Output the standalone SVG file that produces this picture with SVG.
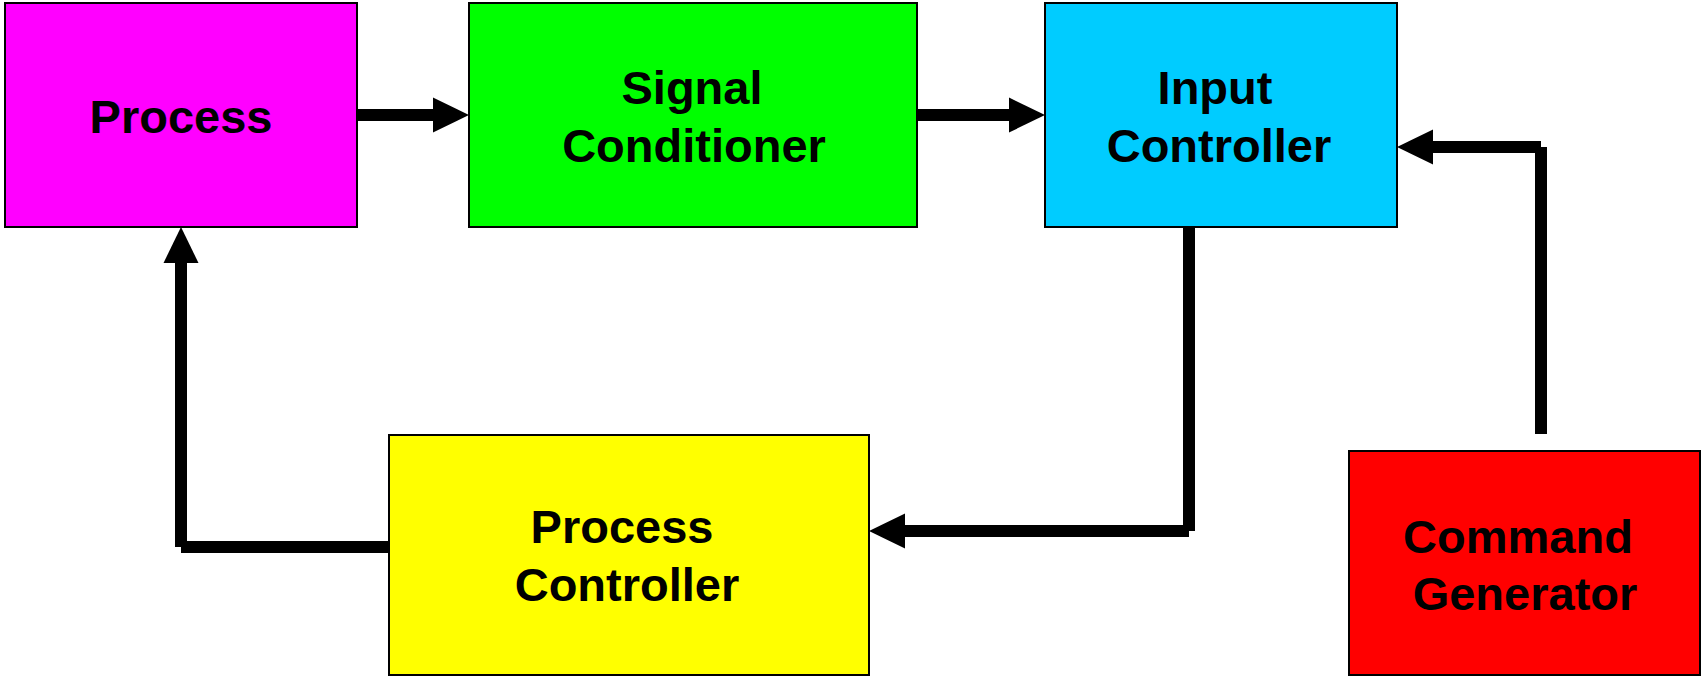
<svg xmlns="http://www.w3.org/2000/svg" width="1701" height="677" viewBox="0 0 1701 677">
  <style>
    .box { stroke: #000; stroke-width: 2; }
    .label { font-family: "Liberation Sans", Arial, sans-serif; font-weight: bold; font-size: 47px; fill: #000; text-anchor: middle; }
    .wire { fill: none; stroke: #000; stroke-width: 12; stroke-linecap: butt; }
  </style>
  <defs>
    <!-- solid triangular head, starting where the line ends -->
    <marker id="head" viewBox="0 0 36 36" refX="0" refY="18" markerWidth="36" markerHeight="36" markerUnits="userSpaceOnUse" orient="auto">
      <path d="M0,0.5 L36,18 L0,35.5 Z" fill="#000"/>
    </marker>
  </defs>

  <rect width="1701" height="677" fill="#fff"/>

  <g id="connectors">
    <!-- Process -> Signal Conditioner -->
    <line class="wire" x1="357" y1="115" x2="433" y2="115" marker-end="url(#head)"/>
    <!-- Signal Conditioner -> Input Controller -->
    <line class="wire" x1="917" y1="115" x2="1009" y2="115" marker-end="url(#head)"/>
    <!-- Command Generator -> Input Controller -->
    <line class="wire" x1="1541" y1="434" x2="1541" y2="147"/>
    <line class="wire" x1="1541" y1="147" x2="1433" y2="147" marker-end="url(#head)"/>
    <!-- Input Controller -> Process Controller -->
    <line class="wire" x1="1189" y1="227" x2="1189" y2="531"/>
    <line class="wire" x1="1189" y1="531" x2="905" y2="531" marker-end="url(#head)"/>
    <!-- Process Controller -> Process -->
    <line class="wire" x1="389" y1="547" x2="181" y2="547"/>
    <line class="wire" x1="181" y1="547" x2="181" y2="263" marker-end="url(#head)"/>
  </g>

  <g id="process">
    <rect class="box" x="5" y="3" width="352" height="224" fill="#FF00FF"/>
    <text class="label" x="181" y="133">Process</text>
  </g>

  <g id="signal-conditioner">
    <rect class="box" x="469" y="3" width="448" height="224" fill="#00FF00"/>
    <text class="label" x="692" y="104">Signal</text>
    <text class="label" x="694" y="162">Conditioner</text>
  </g>

  <g id="input-controller">
    <rect class="box" x="1045" y="3" width="352" height="224" fill="#00CCFF"/>
    <text class="label" x="1215" y="104">Input</text>
    <text class="label" x="1219" y="162">Controller</text>
  </g>

  <g id="process-controller">
    <rect class="box" x="389" y="435" width="480" height="240" fill="#FFFF00"/>
    <text class="label" x="622" y="543">Process</text>
    <text class="label" x="627" y="601">Controller</text>
  </g>

  <g id="command-generator">
    <rect class="box" x="1349" y="451" width="351" height="224" fill="#FF0000"/>
    <text class="label" x="1518" y="553">Command</text>
    <text class="label" x="1525" y="610">Generator</text>
  </g>
</svg>
